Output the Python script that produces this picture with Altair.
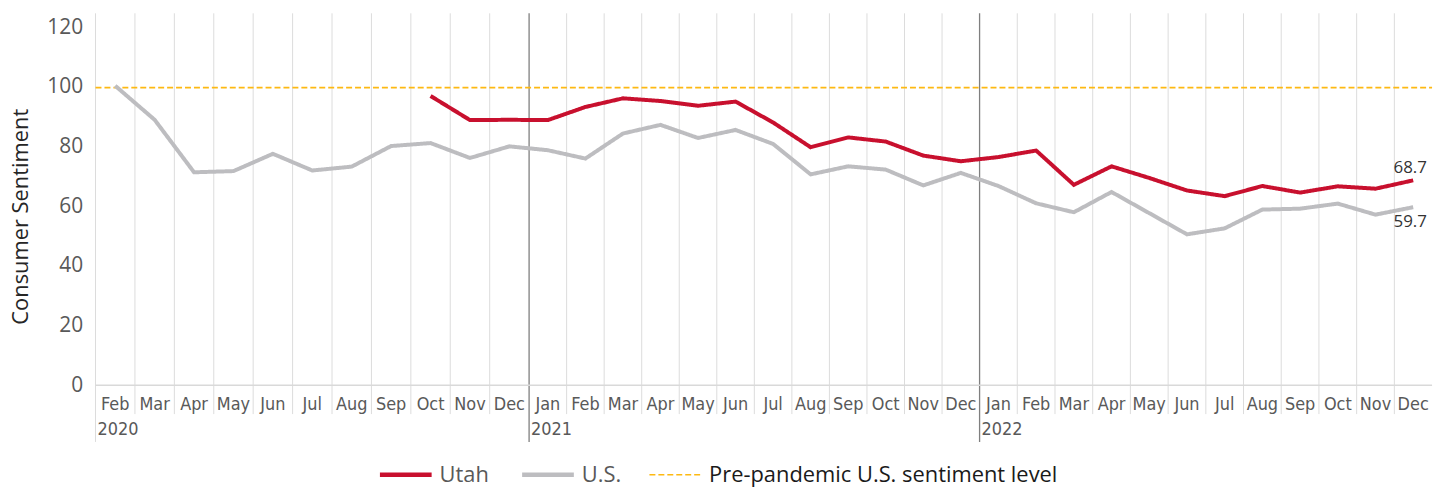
import altair as alt
import pandas as pd

months = ["Feb", "Mar", "Apr", "May", "Jun", "Jul", "Aug", "Sep", "Oct", "Nov", "Dec",
          "Jan", "Feb", "Mar", "Apr", "May", "Jun", "Jul", "Aug", "Sep", "Oct", "Nov", "Dec",
          "Jan", "Feb", "Mar", "Apr", "May", "Jun", "Jul", "Aug", "Sep", "Oct", "Nov", "Dec"]
year_labels = ["2020", "2021", "2022"]
year_start_index = [0, 11, 23]

us_values = [100.4, 89.0, 71.4, 71.8, 77.6, 72.0, 73.3, 80.2, 81.2, 76.2, 80.1,
             78.8, 76.0, 84.4, 87.3, 82.9, 85.6, 80.9, 70.7, 73.4, 72.3, 67.0, 71.2,
             66.8, 61.0, 58.0, 64.8, 57.7, 50.6, 52.6, 58.9, 59.2, 60.9, 57.2, 59.7]
utah_start_index = 8
utah_values = [97.0, 88.9, 89.0,
               88.9, 93.3, 96.2, 95.3, 93.7, 95.1, 88.1, 79.8, 83.1, 81.7, 77.0, 75.1,
               76.5, 78.7, 67.2, 73.4, 69.5, 65.3, 63.4, 66.8, 64.6, 66.7, 65.9, 68.7]
pre_pandemic_level = 99.8

S_UTAH = "Utah"
S_US = "U.S."
S_PRE = "Pre-pandemic U.S. sentiment level"
series_order = [S_UTAH, S_US, S_PRE]
series_colors = ["#C8102E", "#BDBDC0", "#FDB913"]

W, H = 1344, 374
FONT = "Open Sans"
NARROW = "Liberation Sans Narrow, DejaVu Sans Condensed, sans-serif"

rows = []
for i, v in enumerate(us_values):
    rows.append({"i": i, "value": v, "series": S_US})
for k, v in enumerate(utah_values):
    rows.append({"i": utah_start_index + k, "value": v, "series": S_UTAH})
lines_df = pd.DataFrame(rows)

n = len(months)
grid_df = pd.DataFrame({"b": [i - 0.5 for i in range(n)],
                        "kind": ["edge" if i == 0 else ("year" if i in year_start_index else "month")
                                 for i in range(n)]})
month_df = pd.DataFrame({"i": list(range(n)), "label": months})
year_df = pd.DataFrame({"b": [i - 0.5 for i in year_start_index], "label": year_labels})
ref_df = pd.DataFrame({"x0": [-0.5], "x1": [n - 0.5], "value": [pre_pandemic_level], "series": [S_PRE]})
base_df = pd.DataFrame({"x0": [-0.5], "x1": [n - 0.5], "value": [0]})
end_utah_df = pd.DataFrame({"i": [n - 1], "value": [utah_values[-1]], "label": [f"{utah_values[-1]:.1f}"]})
end_us_df = pd.DataFrame({"i": [n - 1], "value": [us_values[-1]], "label": [f"{us_values[-1]:.1f}"]})

xscale = alt.Scale(domain=[-0.5, 10.5, 22.5, n - 0.5], range=[0, 436, 889, W], nice=False, zero=False)
yscale = alt.Scale(domain=[0, 124.7], nice=False, zero=True)

color = alt.Color("series:N", scale=alt.Scale(domain=series_order, range=series_colors),
                  legend=alt.Legend(title=None, orient="none", legendX=301, legendY=453,
                                    direction="horizontal", symbolType="stroke", symbolSize=2704,
                                    symbolStrokeWidth=alt.ExprRef(expr="datum.value === '" + S_PRE + "' ? 1.6 : 4.5"),
                                    labelFont=FONT, labelFontSize=22,
                                    labelColor=alt.ExprRef(expr="datum.value === '" + S_PRE + "' ? '#1a1a1a' : '#595959'"),
                                    labelLimit=600, labelOffset=23, columnPadding=24, padding=0))
dash = alt.StrokeDash("series:N", scale=alt.Scale(domain=series_order, range=[[1, 0], [1, 0], [6, 3]]),
                      legend=alt.Legend(title=None))

grid_month = alt.Chart(grid_df).transform_filter("datum.kind === 'month'").mark_rule(
    color="#DCDCDC", strokeWidth=1).encode(
    x=alt.X("b:Q", scale=xscale, axis=None), y=alt.value(0), y2=alt.value(H + 29))
grid_edge = alt.Chart(grid_df).transform_filter("datum.kind === 'edge'").mark_rule(
    color="#DCDCDC", strokeWidth=1).encode(
    x=alt.X("b:Q", scale=xscale, axis=None), y=alt.value(0), y2=alt.value(H + 57))
grid_year = alt.Chart(grid_df).transform_filter("datum.kind === 'year'").mark_rule(
    color="#7F7F7F", strokeWidth=1.3).encode(
    x=alt.X("b:Q", scale=xscale, axis=None), y=alt.value(0), y2=alt.value(H + 57))

baseline = alt.Chart(base_df).mark_rule(color="#D9D9D9", strokeWidth=1.3).encode(
    x=alt.X("x0:Q", scale=xscale, axis=None), x2="x1:Q",
    y=alt.Y("value:Q", scale=yscale))

ref = alt.Chart(ref_df).mark_rule().encode(
    x=alt.X("x0:Q", scale=xscale, axis=None), x2="x1:Q",
    y=alt.Y("value:Q", scale=yscale),
    color=color, strokeDash=dash, strokeWidth=alt.value(1.8))

lines = alt.Chart(lines_df).mark_line(strokeJoin="miter", strokeCap="butt").encode(
    x=alt.X("i:Q", scale=xscale, axis=None),
    y=alt.Y("value:Q", scale=yscale,
            axis=alt.Axis(values=[0, 20, 40, 60, 80, 100, 120], title="Consumer Sentiment",
                          domain=False, ticks=False, grid=False, labelPadding=13,
                          labelFont=FONT, labelFontSize=21, labelColor="#595959",
                          titleFont=FONT, titleFontSize=22, titleFontWeight="normal",
                          titleColor="#262626", titleX=-63, titleY=204)),
    color=color, strokeDash=dash, strokeWidth=alt.value(4),
    detail="series:N", order="i:Q")

end_utah = alt.Chart(end_utah_df).mark_text(font=FONT, fontSize=17, color="#333333",
                                            align="center", baseline="middle", dx=-3, dy=-12).encode(
    x=alt.X("i:Q", scale=xscale, axis=None), y=alt.Y("value:Q", scale=yscale), text="label:N")
end_us = alt.Chart(end_us_df).mark_text(font=FONT, fontSize=17, color="#333333",
                                        align="center", baseline="middle", dx=-3, dy=15).encode(
    x=alt.X("i:Q", scale=xscale, axis=None), y=alt.Y("value:Q", scale=yscale), text="label:N")

month_text = alt.Chart(month_df).mark_text(font=NARROW, fontSize=18, color="#595959",
                                           align="center", baseline="middle").encode(
    x=alt.X("i:Q", scale=xscale, axis=None), y=alt.value(H + 20), text="label:N")
year_text = alt.Chart(year_df).mark_text(font=NARROW, fontSize=18, color="#595959",
                                         align="left", baseline="middle", dx=2).encode(
    x=alt.X("b:Q", scale=xscale, axis=None), y=alt.value(H + 45), text="label:N")

chart = alt.layer(grid_month, grid_edge, grid_year, baseline, ref, lines, end_utah, end_us,
                  month_text, year_text).properties(
    width=W, height=H,
    autosize=alt.AutoSizeParams(type="none"),
    padding={"left": 88, "top": 4, "right": 10, "bottom": 106}
).configure_view(stroke=None)

chart.save("out.html", embed_options={"renderer": "svg", "actions": False})
